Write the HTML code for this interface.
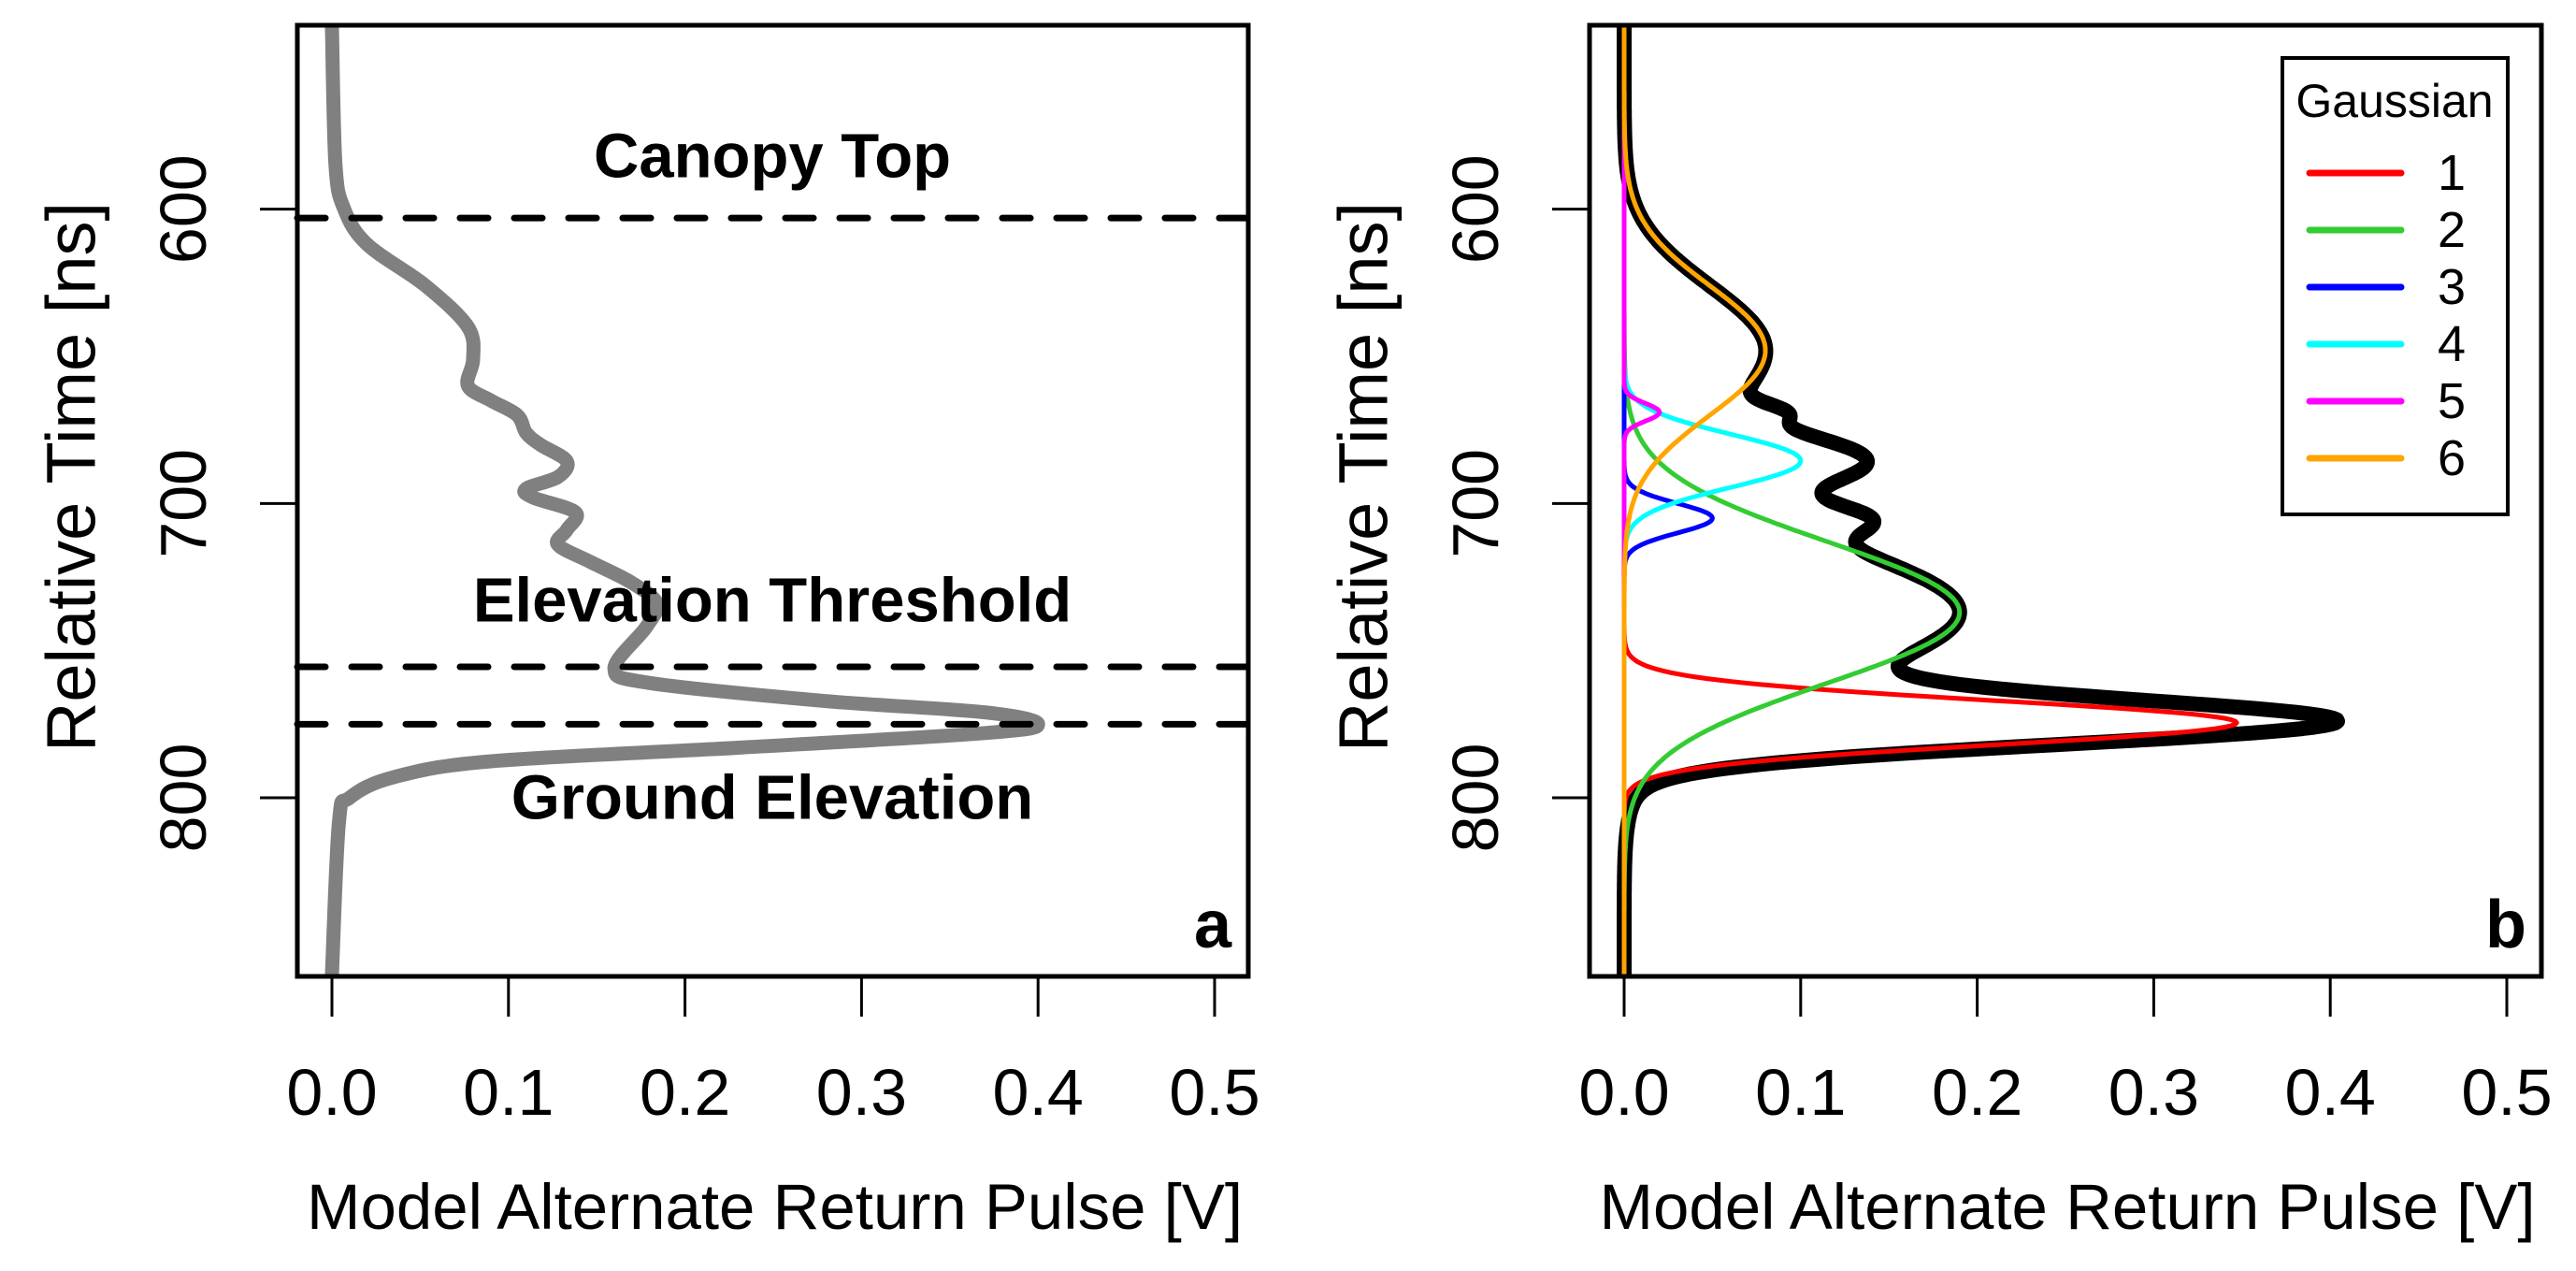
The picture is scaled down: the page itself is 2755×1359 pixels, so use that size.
<!DOCTYPE html>
<html><head><meta charset="utf-8"><style>
html,body{margin:0;padding:0;background:#fff;}
svg{display:block;}
text{font-family:"Liberation Sans",Arial,sans-serif;}
</style></head>
<body>
<svg id="chart" width="2755" height="1359" viewBox="0 0 2755 1359" xmlns="http://www.w3.org/2000/svg">
<rect x="0" y="0" width="2755" height="1359" fill="#fff"/>
<g id="pa"></g>
<g id="pb"></g>
</svg>
<script>
// Panel a waveform samples (time ns, pulse V)
const waveTime = [538,585,600,612,626,640,651,660,665,670,676,680,685.6,691,695,698,703,709,714,720,727,734,742,756,761,767,771,775,778,783,787.6,793,800,808,860];
const waveVal  = [0,0.002,0.007,0.02,0.053,0.077,0.08,0.077,0.09,0.105,0.11,0.118,0.133,0.128,0.11,0.114,0.138,0.133,0.128,0.147,0.17,0.184,0.178,0.16,0.18,0.277,0.37,0.4,0.37,0.23,0.09,0.035,0.01,0.004,0];
const refLines = [603,755.5,775];
const refLabels = ["Canopy Top","Elevation Threshold","Ground Elevation"];
const refLabelTimes = [582,733,800];
// Panel b Gaussian components
const gaussNames = ["1","2","3","4","5","6"];
const gaussAmp   = [0.347,0.19,0.05,0.1,0.02,0.08];
const gaussMu    = [774.5,737,705,685.5,669,648];
const gaussSigma = [7.5,24,5,9,3,22];
const gaussColors = ["#ff0000","#33cc33","#0000ff","#00ffff","#ff00ff","#ffa500"];
const xTicks = [0,0.1,0.2,0.3,0.4,0.5];
const xTickLabels = ["0.0","0.1","0.2","0.3","0.4","0.5"];
const yTicks = [600,700,800];

const NS="http://www.w3.org/2000/svg";
function el(parent,tag,attrs,txt){const e=document.createElementNS(NS,tag);for(const k in attrs)e.setAttribute(k,attrs[k]);if(txt!==undefined)e.textContent=txt;parent.appendChild(e);return e;}
const TOP=27,BOT=1044,T0=537.5,T1=860.7;
function yS(t){return TOP+(t-T0)/(T1-T0)*(BOT-TOP);}
function makeX(x0){return v=>x0+v*1888;}
function smoothPath(pts){
  let d="M"+pts[0][0].toFixed(1)+","+pts[0][1].toFixed(1);
  for(let i=0;i<pts.length-1;i++){
    const p0=pts[Math.max(0,i-1)],p1=pts[i],p2=pts[i+1],p3=pts[Math.min(pts.length-1,i+2)];
    const c1=[p1[0]+(p2[0]-p0[0])/6,p1[1]+(p2[1]-p0[1])/6];
    const c2=[p2[0]-(p3[0]-p1[0])/6,p2[1]-(p3[1]-p1[1])/6];
    d+=" C"+c1[0].toFixed(1)+","+c1[1].toFixed(1)+" "+c2[0].toFixed(1)+","+c2[1].toFixed(1)+" "+p2[0].toFixed(1)+","+p2[1].toFixed(1);
  }
  return d;
}
function axes(g,L,R,xS,letter){
  const clip=el(g,'clipPath',{id:'clip'+letter});
  el(clip,'rect',{x:L,y:TOP,width:R-L,height:BOT-TOP});
  xTicks.forEach((v,i)=>{
    const t=el(g,'line',{x1:xS(v),x2:xS(v),y1:BOT,y2:BOT+43,stroke:'#000','stroke-width':3});
    
    
    const lb=el(g,'text',{x:xS(v),y:1192,'font-size':70,'text-anchor':'middle'},xTickLabels[i]);
    
    
  });
  yTicks.forEach(v=>{
    const t=el(g,'line',{x1:L-40,x2:L,y1:yS(v),y2:yS(v),stroke:'#000','stroke-width':3});
    
    
    const cx=L-122;
    const lb=el(g,'text',{x:cx,y:yS(v),'font-size':70,'text-anchor':'middle','dominant-baseline':'central',transform:'rotate(-90 '+cx+' '+yS(v)+')'},String(v));
    
    
  });
  const tx=L-242;
  const yt=el(g,'text',{x:tx,y:510,'font-size':74,'text-anchor':'middle','dominant-baseline':'central',transform:'rotate(-90 '+tx+' 510)'},'Relative Time [ns]');
  
  
  const xt=el(g,'text',{x:(L+R)/2+2,y:1314,'font-size':69,'text-anchor':'middle'},'Model Alternate Return Pulse [V]');
  
  
  const pl=el(g,'text',{x:R-38,y:1013,'font-size':72,'font-weight':'bold','text-anchor':'middle'},letter);
  
  
}
function frame(g,L,R){
  const f=el(g,'rect',{x:L,y:TOP,width:R-L,height:BOT-TOP,fill:'none',stroke:'#000','stroke-width':5});
  
  
}
// Panel A
(function(){
  const g=document.getElementById('pa');const L=318,R=1335;const xS=makeX(355);
  axes(g,L,R,xS,'a');
  const pts=waveTime.map((t,i)=>[xS(waveVal[i]),yS(t)]);
  const p=el(g,'path',{d:smoothPath(pts),fill:'none',stroke:'#808080','stroke-width':15,'stroke-linejoin':'round','clip-path':'url(#clipa)'});
  
  
  refLines.forEach(t=>{
    const l=el(g,'line',{x1:L,x2:R,y1:yS(t),y2:yS(t),stroke:'#000','stroke-width':7,'stroke-dasharray':'30 28','stroke-linecap':'round'});
    
    
  });
  refLabels.forEach((s,i)=>{
    const tx=el(g,'text',{x:826,y:yS(refLabelTimes[i]),'font-size':67,'font-weight':'bold','text-anchor':'middle','dominant-baseline':'central'},s);
    
    
  });
  frame(g,L,R);
})();
// Panel B
(function(){
  const g=document.getElementById('pb');const L=1700,R=2718;const xS=makeX(1737);
  axes(g,L,R,xS,'b');
  const ts=[];for(let t=T0;t<=T1;t+=0.5)ts.push(t);
  function comp(k,t){return gaussAmp[k]*Math.exp(-((t-gaussMu[k])**2)/(2*gaussSigma[k]**2));}
  const tot=ts.map(t=>{let s=0;for(let k=0;k<gaussAmp.length;k++)s+=comp(k,t);return [xS(s),yS(t)];});
  const tp=el(g,'path',{d:'M'+tot.map(p=>p[0].toFixed(1)+','+p[1].toFixed(1)).join(' L'),fill:'none',stroke:'#000','stroke-width':16,'stroke-linejoin':'round','clip-path':'url(#clipb)'});
  
  
  for(let k=0;k<gaussAmp.length;k++){
    const pts=ts.map(t=>[xS(comp(k,t)),yS(t)]);
    const cp=el(g,'path',{d:'M'+pts.map(p=>p[0].toFixed(1)+','+p[1].toFixed(1)).join(' L'),fill:'none',stroke:gaussColors[k],'stroke-width':5,'stroke-linejoin':'round','clip-path':'url(#clipb)'});
    
    
  }
  frame(g,L,R);
  const lg=el(g,'g',{});
  
  
  el(lg,'rect',{x:2441,y:62,width:241,height:488,fill:'#fff',stroke:'#000','stroke-width':4});
  const lt=el(lg,'text',{x:2561,y:108,'font-size':50,'text-anchor':'middle','dominant-baseline':'central'},'Gaussian');
  
  
  gaussNames.forEach((n,i)=>{
    const y=185+i*61;
    const en=el(lg,'g',{});
    
    
    el(en,'line',{x1:2470,x2:2568,y1:y,y2:y,stroke:gaussColors[i],'stroke-width':7,'stroke-linecap':'round'});
    el(en,'text',{x:2622,y:y,'font-size':54,'text-anchor':'middle','dominant-baseline':'central'},n);
  });
})();
</script>
</body></html>
